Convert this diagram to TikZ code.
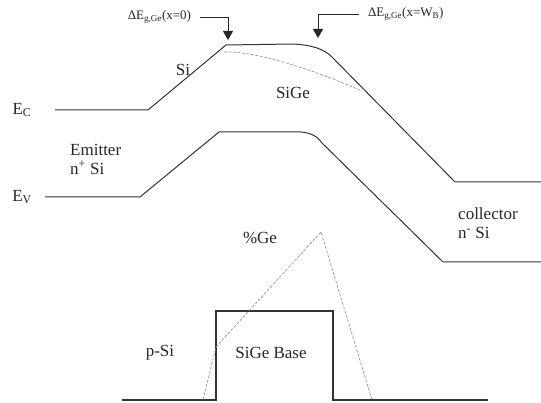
\documentclass[tikz,border=0pt]{standalone}
\usepackage{fontspec}
\setmainfont{Liberation Serif}
\usetikzlibrary{arrows.meta}

\begin{document}
\begin{tikzpicture}[
    x=1pt,
    y=-1pt,
    font=\fontsize{17}{19}\selectfont,
    band/.style={draw=black!80, line width=1pt, line join=round},
    ref/.style={draw=black!45, line width=0.6pt,
                dash pattern=on 3pt off 1.5pt},
    profile/.style={draw=black!80, line width=1.2pt},
    tag/.style={inner sep=0pt, text=black!85},
    gaplabel/.style={inner sep=0pt, outer sep=9pt, text=black!85,
                     font=\fontsize{13}{15}\selectfont},
    marker/.style={draw=black!85, line width=0.8pt,
                   -{Triangle[width=10pt,length=9pt]}}
]
\useasboundingbox (0,0) rectangle (541,403);

% Conduction band edge; the dashed curve is the Si edge under the SiGe base.
\draw[band] (55,110) -- (148,110) -- (226,45) -- (293,44)
      .. controls (312,45) and (324,49) .. (332,57) -- (455,182) -- (541,182);
\draw[ref] (224,52) .. controls (250,51) and (300,64) .. (362,91);

% Valence band edge
\draw[band] (45,197) -- (140,197) -- (219,132) -- (301,132)
      .. controls (312,133) and (318,137) .. (322,143) -- (443,262) -- (541,262);

% Band offsets at both ends of the base
\coordinate (tipZero) at (228,40);
\coordinate (tipWB) at (318,38);
\node[gaplabel, anchor=east] (dEzero) at (200,17)
      {ΔE\textsubscript{g,Ge}(x=0)};
\node[gaplabel, anchor=west] (dEwb) at (359,14)
      {ΔE\textsubscript{g,Ge}(x=W\textsubscript{B})};
\draw[marker] (dEzero.east) -| (tipZero);
\draw[marker] (dEwb.west) -| (tipWB);

% Region and level labels
\node[tag] (ec) at (22,110) {E\textsubscript{C}};
\node[tag] (ev) at (22,197) {E\textsubscript{V}};
\node[tag] (si) at (183,70) {Si};
\node[tag] (sige) at (293,93) {SiGe};
\node[tag, align=left, anchor=west] (emitter) at (70,159)
      {Emitter\\n\textsuperscript{+} Si};
\node[tag, align=left, anchor=west] (collector) at (458,223)
      {collector\\n\textsuperscript{-} Si};
\node[tag] (pctge) at (260,238) {\%Ge};

% Ge profile: box-shaped base with the graded (triangular) profile dashed
\draw[profile] (122,400) -- (216,400) -- (216,311) -- (333,311)
      -- (333,400) -- (488,400);
\draw[ref] (203,400) -- (216,347) -- (321,232) -- (372,400);
\node[tag] (psi) at (160,353) {p-Si};
\node[tag] (base) at (271,353) {SiGe Base};
\end{tikzpicture}
\end{document}
